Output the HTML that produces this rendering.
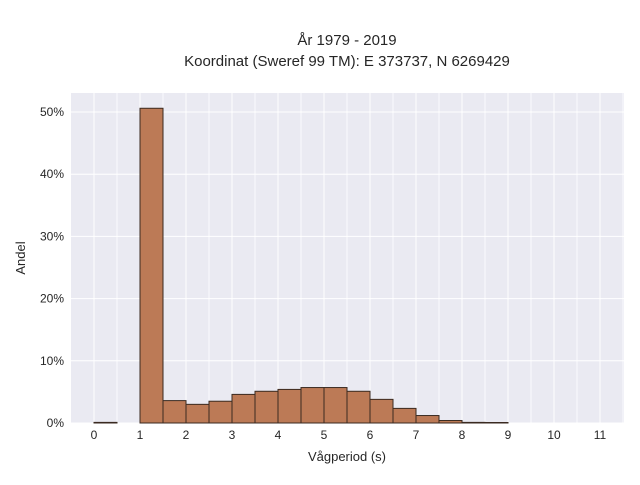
<!DOCTYPE html>
<html><head><meta charset="utf-8"><style>
body{margin:0;background:#fff;font-family:"Liberation Sans",sans-serif}
svg text{font-family:"Liberation Sans",sans-serif;fill:#262626}
</style></head><body>
<svg width="640" height="480" xmlns="http://www.w3.org/2000/svg">
<text x="347" y="45" text-anchor="middle" font-size="15">År 1979 - 2019</text>
<text x="347" y="66" text-anchor="middle" font-size="15">Koordinat (Sweref 99 TM): E 373737, N 6269429</text>
<rect x="71" y="93" width="553" height="330" fill="#eaeaf2"/>
<g id="grid"></g><g id="bars"></g><g id="ticks"></g>
<text x="347" y="461" text-anchor="middle" font-size="13">Vågperiod (s)</text>
<text transform="translate(25,258) rotate(-90)" text-anchor="middle" font-size="13">Andel</text>
</svg>
<script>
const binStarts=[0,0.5,1,1.5,2,2.5,3,3.5,4,4.5,5,5.5,6,6.5,7,7.5,8,8.5];
const binValues=[0.1,0,50.6,3.6,3.0,3.5,4.6,5.1,5.4,5.7,5.7,5.1,3.8,2.35,1.2,0.4,0.1,0.08];
const binWidth=0.5;
const xTicks=[0,1,2,3,4,5,6,7,8,9,10,11];
const yTicks=[0,10,20,30,40,50];
const X=v=>94+v*46, Y=v=>423-v*6.22;
const NS="http://www.w3.org/2000/svg";
const mk=(p,t,a)=>{const e=document.createElementNS(NS,t);for(const k in a)e.setAttribute(k,a[k]);p.appendChild(e);return e;};
const g=document.getElementById('grid'),b=document.getElementById('bars'),t=document.getElementById('ticks');
xTicks.forEach(v=>{
 const l=mk(g,'line',{x1:X(v),x2:X(v),y1:93,y2:423,stroke:'#fff','stroke-width':1});
 
 
 const h=mk(g,'line',{x1:X(v+0.5),x2:X(v+0.5),y1:93,y2:423,stroke:'#fff','stroke-width':0.8});
 
 
 const tx=mk(t,'text',{x:X(v),y:439,'text-anchor':'middle','font-size':12});
 tx.textContent=v;
 
 
});
yTicks.forEach(v=>{
 const l=mk(g,'line',{x1:71,x2:624,y1:Y(v),y2:Y(v),stroke:'#fff','stroke-width':1});
 
 
 const tx=mk(t,'text',{x:64,y:Y(v)+4,'text-anchor':'end','font-size':12});
 tx.textContent=v+'%';
 
 
});
binStarts.forEach((s,i)=>{
 const v=binValues[i]; if(v<=0)return;
 const r=mk(b,'rect',{x:X(s),y:Y(v),width:X(s+binWidth)-X(s),height:Y(0)-Y(v),fill:'#bc7a56',stroke:'#3a2a20','stroke-width':1});
 
 
});
</script>
</body></html>
